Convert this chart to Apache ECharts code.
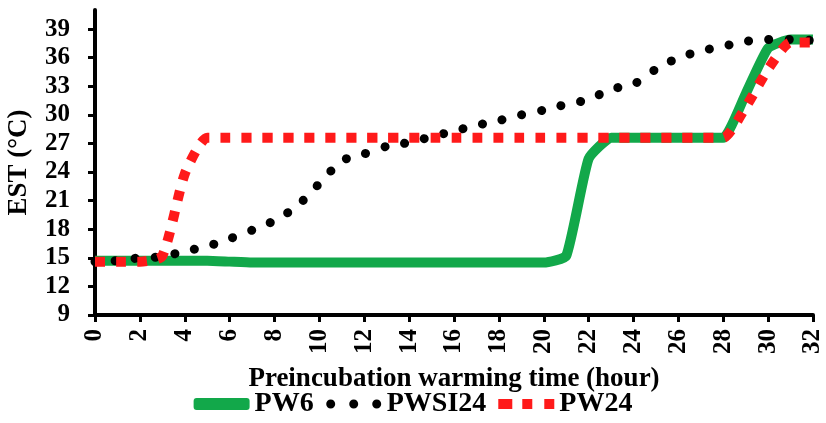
<!DOCTYPE html>
<html><head><meta charset="utf-8">
<script src="https://cdn.jsdelivr.net/npm/echarts@6/dist/echarts.min.js"></script>
<style>html,body{margin:0;padding:0;background:#fff}#c{width:826px;height:423px}</style>
</head><body><div id="c"></div>
<script>
const hours = [0,1,2,3,4,5,6,7,8,9,10,11,12,13,14,15,16,17,18,19,20,21,22,23,24,25,26,27,28,29,30,31,32];
const pw6 =    [14.7,14.7,14.7,14.7,14.7,14.7,14.6,14.5,14.5,14.5,14.5,14.5,14.5,14.5,14.5,14.5,14.5,14.5,14.5,14.5,14.5,15.2,25.4,27.6,27.6,27.6,27.6,27.6,27.6,32.2,37.0,37.9,37.9];
const pwsi24 = [14.6,14.7,15.0,15.1,15.7,16.2,17.0,17.9,18.9,20.4,22.8,25.2,25.9,26.7,27.1,27.7,28.3,28.9,29.4,30.0,30.5,31.1,31.6,32.7,33.2,34.8,36.0,36.7,37.2,37.7,37.9,37.9,37.8];
const pw24 =   [14.6,14.6,14.6,15.2,23.8,27.6,27.6,27.6,27.6,27.6,27.6,27.6,27.6,27.6,27.6,27.6,27.6,27.6,27.6,27.6,27.6,27.6,27.6,27.6,27.6,27.6,27.6,27.6,27.6,30.8,34.8,37.6,37.6];
const yTicks = [9,12,15,18,21,24,27,30,33,36,39];
const xTicks = [0,2,4,6,8,10,12,14,16,18,20,22,24,26,28,30,32];
const seriesNames = ['PW6','PWSI24','PW24'];

const font = "'Liberation Serif','Times New Roman',serif";
const pair = arr => hours.map((h,i)=>[h,arr[i]]);
function circ(cx, cy, r) {
  const k = 0.5523 * r;
  return `M${cx+r},${cy}C${cx+r},${cy+k} ${cx+k},${cy+r} ${cx},${cy+r}` +
         `C${cx-k},${cy+r} ${cx-r},${cy+k} ${cx-r},${cy}` +
         `C${cx-r},${cy-k} ${cx-k},${cy-r} ${cx},${cy-r}` +
         `C${cx+k},${cy-r} ${cx+r},${cy-k} ${cx+r},${cy}Z`;
}
const dotsIcon = 'path://M0,0M56,12' + circ(5,6,4.5) + circ(28,6,4.5) + circ(51,6,4.5);
const squaresIcon = 'path://M0,0M56,12M0,1h14v10h-14zM24,1h10v10h-10zM46,1h10v10h-10z';
const chart = echarts.init(document.getElementById('c'));
chart.setOption({
  animation:false,
  grid:{left:95,right:13,top:10,bottom:108,containLabel:false,outerBoundsMode:'none'},
  legend:{
    data:[
      {name:seriesNames[0],icon:'roundRect'},
      {name:seriesNames[1],icon:dotsIcon},
      {name:seriesNames[2],icon:squaresIcon}
    ],
    top:385, left:'center', itemWidth:56, itemHeight:12, itemGap:12,
    textStyle:{fontFamily:font,fontWeight:'bold',fontSize:28,color:'#000'}
  },
  xAxis:{
    type:'value', min:0, max:32, interval:2,
    name:'Preincubation warming time (hour)', nameLocation:'middle', nameGap:51,
    nameTextStyle:{fontFamily:font,fontWeight:'bold',fontSize:27,color:'#000'},
    axisLine:{lineStyle:{color:'#000',width:4}},
    axisTick:{show:true,length:7,lineStyle:{color:'#000',width:3}},
    axisLabel:{rotate:90,margin:14,fontFamily:font,fontWeight:'bold',fontSize:25,color:'#000',customValues:xTicks},
    splitLine:{show:false}
  },
  yAxis:{
    type:'value', min:9, max:41, interval:3,
    name:'EST (°C)', nameLocation:'middle', nameGap:62, nameRotate:90,
    nameTextStyle:{fontFamily:font,fontWeight:'bold',fontSize:27,color:'#000'},
    axisLine:{show:true,lineStyle:{color:'#000',width:4}},
    axisTick:{show:true,length:7,lineStyle:{color:'#000',width:3},customValues:yTicks},
    axisLabel:{margin:25,fontFamily:font,fontWeight:'bold',fontSize:25,color:'#000',customValues:yTicks},
    splitLine:{show:false}
  },
  series:[
    {name:'PW6',type:'line',data:pair(pw6),symbol:'none',smooth:0.15,z:2,
     itemStyle:{color:'#12a84a'},
     lineStyle:{color:'#12a84a',width:10,cap:'butt',join:'round'}},
    {name:'PWSI24',type:'line',data:pair(pwsi24),symbol:'none',smooth:0.2,z:3,
     itemStyle:{color:'#000'},
     lineStyle:{color:'#000',width:9,type:[0.1,20],cap:'round'}},
    {name:'PW24',type:'line',data:pair(pw24),symbol:'none',smooth:0.2,z:4,
     itemStyle:{color:'#ff1a1a'},
     lineStyle:{color:'#ff1a1a',width:10,type:[10,11],cap:'butt'}}
  ]
});
</script></body></html>
